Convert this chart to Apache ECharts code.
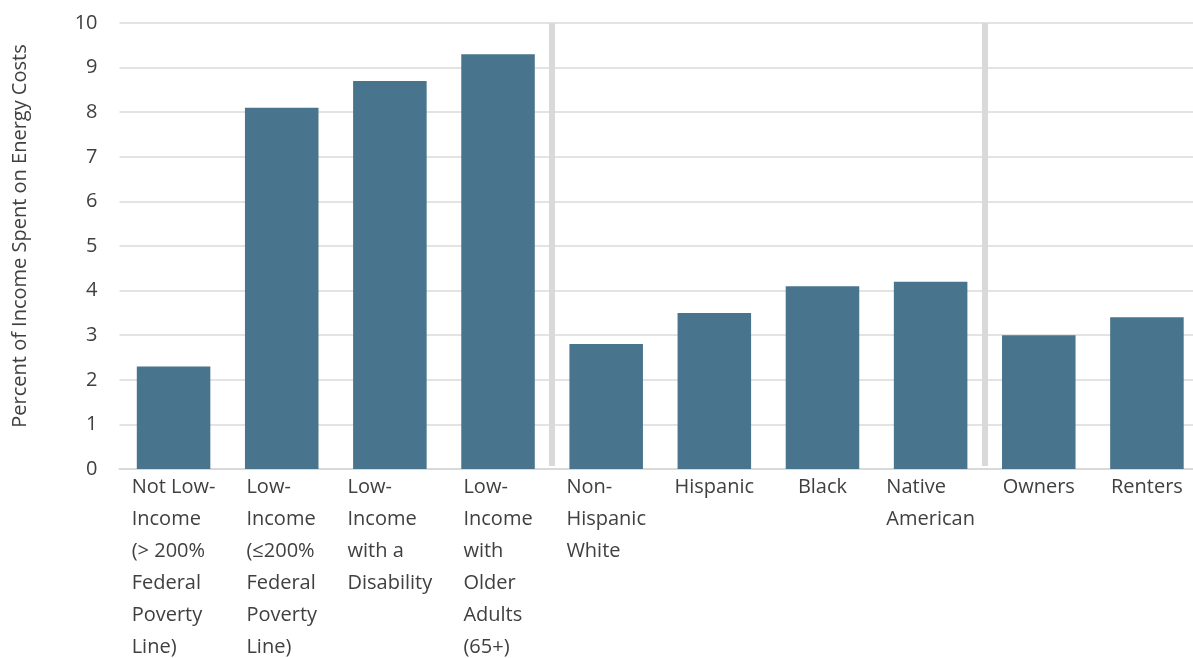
<!DOCTYPE html>
<html>
<head>
<meta charset="utf-8">
<script src="https://cdn.jsdelivr.net/npm/echarts@6/dist/echarts.min.js"></script>
<style>
html,body{margin:0;padding:0;background:#fff;}
#chart{width:1193px;height:658px;}
</style>
</head>
<body>
<div id="chart"></div>
<script>
const categories = [
  "Not Low-\nIncome\n(> 200%\nFederal\nPoverty\nLine)",
  "Low-\nIncome\n(\u2264200%\nFederal\nPoverty\nLine)",
  "Low-\nIncome\nwith a\nDisability",
  "Low-\nIncome\nwith\nOlder\nAdults\n(65+)",
  "Non-\nHispanic\nWhite",
  "Hispanic",
  "Black",
  "Native\nAmerican",
  "Owners",
  "Renters"
];
const values = [2.3, 8.1, 8.7, 9.3, 2.8, 3.5, 4.1, 4.2, 3.0, 3.4];
const yTicks = [0, 1, 2, 3, 4, 5, 6, 7, 8, 9, 10];
const separatorsAfter = [4, 8];
const yTitle = "Percent of Income Spent on Energy Costs";

const chart = echarts.init(document.getElementById('chart'), null, {renderer: 'canvas'});
const font = "'Open Sans', sans-serif";
chart.setOption({
  animation: false,
  grid: {left: 119.5, right: -8, top: 23, bottom: 189, containLabel: false, outerBoundsMode: 'none'},
  xAxis: [{
    type: 'category',
    data: categories,
    axisTick: {show: false},
    axisLine: {lineStyle: {color: '#d9d9d9', width: 2}},
    axisLabel: {
      interval: 0,
      margin: 2,
      color: '#404040',
      fontFamily: font,
      fontSize: 20,
      formatter: v => '{a|' + v + '}',
      rich: {a: {align: 'left', lineHeight: 32, fontSize: 20, fontFamily: font, color: '#404040'}}
    }
  }, {
    type: 'value', min: 0, max: categories.length, show: false
  }],
  yAxis: {
    type: 'value',
    min: yTicks[0],
    max: yTicks[yTicks.length - 1],
    interval: 1,
    name: yTitle,
    nameLocation: 'middle',
    nameGap: 89,
    nameRotate: 90,
    nameTextStyle: {fontFamily: font, fontSize: 20, color: '#404040', padding: [0, 0, 0, 20]},
    axisLine: {show: false},
    axisTick: {show: false},
    axisLabel: {margin: 22, color: '#404040', fontFamily: font, fontSize: 20},
    splitLine: {lineStyle: {color: '#e3e3e3', width: 2}}
  },
  series: [{
    type: 'bar',
    data: values,
    barCategoryGap: '32%',
    itemStyle: {color: '#48758d'},
    xAxisIndex: 0
  }, {
    type: 'line',
    xAxisIndex: 1,
    data: [],
    silent: true,
    markLine: {
      symbol: 'none',
      silent: true,
      label: {show: false},
      lineStyle: {color: '#d9d9d9', width: 6, type: 'solid'},
      data: separatorsAfter.map(s => [{coord: [s, 10]}, {coord: [s, 0.07]}])
    }
  }]
});
</script>
</body>
</html>
